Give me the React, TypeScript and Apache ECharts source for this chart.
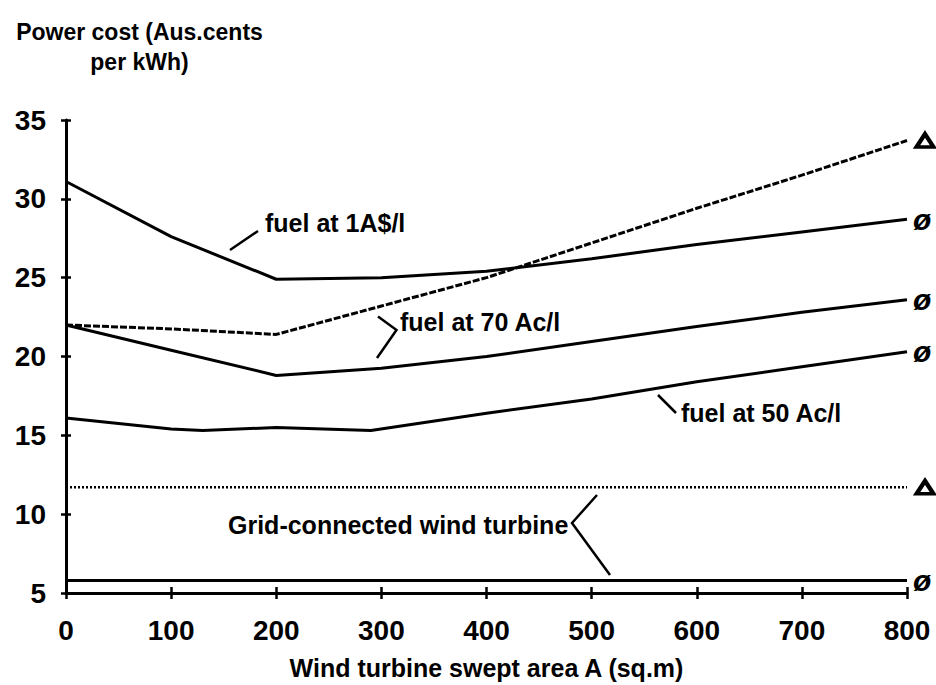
import React, { useEffect, useRef } from "react";
import * as echarts from "echarts";

// swept area (sq.m) and power cost (Aus. cents per kWh)
const fuel100X = [0, 100, 200, 300, 400, 500, 600, 700, 800];
const fuel100Y = [31.1, 27.6, 24.9, 25.0, 25.4, 26.2, 27.1, 27.9, 28.7];
const dashedX = [0, 100, 200, 300, 400, 500, 600, 700, 800];
const dashedY = [22.0, 21.75, 21.4, 23.2, 25.0, 27.2, 29.4, 31.5, 33.7];
const fuel70X = [0, 100, 200, 300, 400, 500, 600, 700, 800];
const fuel70Y = [22.0, 20.4, 18.8, 19.25, 20.0, 20.95, 21.9, 22.8, 23.6];
const fuel50X = [0, 100, 130, 200, 290, 400, 500, 600, 700, 800];
const fuel50Y = [16.1, 15.4, 15.3, 15.5, 15.3, 16.4, 17.3, 18.4, 19.35, 20.3];
const gridDottedX = [0, 800];
const gridDottedY = [11.7, 11.7];
const gridSolidX = [0, 800];
const gridSolidY = [5.8, 5.8];

const xTicks = [0, 100, 200, 300, 400, 500, 600, 700, 800];
const yTicks = [5, 10, 15, 20, 25, 30, 35];

const FONT = "'Liberation Sans', Arial, sans-serif";

const pairs = (xs: number[], ys: number[]) => xs.map((x, i) => [x, ys[i]]);

export default function App() {
  const ref = useRef<HTMLDivElement>(null);
  useEffect(() => {
    if (!ref.current) return;
    const chart = echarts.init(ref.current, undefined, { renderer: "svg" });
    const lineBase = (name: string, data: number[][], dash: any, width: number, mark: string | null) => ({
      name,
      type: "line",
      data,
      xAxisIndex: 0,
      yAxisIndex: 0,
      symbol: "none",
      clip: false,
      lineStyle: { color: "#000", width, type: dash },
      endLabel: mark
        ? {
            show: true,
            formatter: mark,
            distance: 6,
            color: "#000",
            fontSize: 30,
            fontWeight: "bold",
            fontStyle: "italic",
            fontFamily: FONT,
          }
        : { show: false },
      z: 3,
    });
    const last = (xs: number[], ys: number[]) => [xs[xs.length - 1], ys[ys.length - 1]];
    const commonX = {
      type: "value",
      min: xTicks[0],
      max: xTicks[xTicks.length - 1],
      interval: 100,
      splitLine: { show: false },
    };
    const commonY = {
      type: "value",
      min: yTicks[0],
      max: yTicks[yTicks.length - 1],
      interval: 5,
      splitLine: { show: false },
    };
    chart.setOption({
      animation: false,
      backgroundColor: "#fff",
      grid: { left: 66, right: 29, top: 120, bottom: 92, containLabel: false },
      xAxis: [
        {
          ...commonX,
          position: "bottom",
          axisLine: { lineStyle: { color: "#000", width: 3 } },
          axisTick: { show: true, inside: false, length: 6, lineStyle: { color: "#000", width: 2.5 } },
          axisLabel: { color: "#000", fontSize: 28, fontWeight: "bold", fontFamily: FONT, margin: 23 },
          name: "Wind turbine swept area A (sq.m)",
          nameLocation: "middle",
          nameGap: 62,
          nameTextStyle: { color: "#000", fontSize: 25, fontWeight: "bold", fontFamily: FONT },
        },
        {
          ...commonX,
          position: "bottom",
          axisLine: { show: false },
          axisTick: { show: true, inside: true, length: 6, lineStyle: { color: "#000", width: 2.5 } },
          axisLabel: { show: false },
        },
      ],
      yAxis: [
        {
          ...commonY,
          position: "left",
          axisLine: { show: true, lineStyle: { color: "#000", width: 3 } },
          axisTick: { show: true, inside: false, length: 5, lineStyle: { color: "#000", width: 2.5 } },
          axisLabel: { color: "#000", fontSize: 28, fontWeight: "bold", fontFamily: FONT, margin: 20 },
        },
        {
          ...commonY,
          position: "left",
          axisLine: { show: false },
          axisTick: { show: true, inside: true, length: 5, lineStyle: { color: "#000", width: 2.5 } },
          axisLabel: { show: false },
        },
      ],
      series: [
        lineBase("fuel at 1A$/l", pairs(fuel100X, fuel100Y), "solid", 3, "ø"),
        lineBase("dashed", pairs(dashedX, dashedY), [7, 2], 3, null),
        lineBase("fuel at 70 Ac/l", pairs(fuel70X, fuel70Y), "solid", 3, "ø"),
        lineBase("fuel at 50 Ac/l", pairs(fuel50X, fuel50Y), "solid", 3, "ø"),
        lineBase("Grid-connected wind turbine (dotted)", pairs(gridDottedX, gridDottedY), [2, 2], 2.5, null),
        lineBase("Grid-connected wind turbine", pairs(gridSolidX, gridSolidY), "solid", 3, "ø"),
        {
          name: "triangles",
          type: "scatter",
          xAxisIndex: 0,
          yAxisIndex: 0,
          clip: false,
          data: [last(dashedX, dashedY), last(gridDottedX, gridDottedY)],
          symbol: "triangle",
          symbolSize: [17, 13],
          symbolOffset: [18, 0],
          itemStyle: { color: "#fff", borderColor: "#000", borderWidth: 4, opacity: 1 },
          z: 4,
        },
      ],
      graphic: [
        {
          type: "text",
          x: 139.5,
          y: 47,
          style: {
            text: "Power cost (Aus.cents\nper kWh)",
            fill: "#000",
            font: `bold 23px ${FONT}`,
            textAlign: "center",
            textVerticalAlign: "middle",
            lineHeight: 30,
          },
        },
        {
          type: "text",
          x: 265,
          y: 223,
          style: { text: "fuel at 1A$/l", fill: "#000", font: `bold 25px ${FONT}`, textVerticalAlign: "middle" },
        },
        { type: "line", shape: { x1: 230, y1: 250, x2: 258, y2: 231 }, style: { stroke: "#000", lineWidth: 2.5 } },
        {
          type: "text",
          x: 400,
          y: 322,
          style: { text: "fuel at 70 Ac/l", fill: "#000", font: `bold 25px ${FONT}`, textVerticalAlign: "middle" },
        },
        {
          type: "polyline",
          shape: { points: [[378, 316.5], [396.5, 330], [377, 358]] },
          style: { stroke: "#000", lineWidth: 2.5, fill: "none" },
        },
        {
          type: "text",
          x: 681,
          y: 413,
          style: { text: "fuel at 50 Ac/l", fill: "#000", font: `bold 25px ${FONT}`, textVerticalAlign: "middle" },
        },
        { type: "line", shape: { x1: 658, y1: 395, x2: 676, y2: 413 }, style: { stroke: "#000", lineWidth: 2.5 } },
        {
          type: "text",
          x: 228,
          y: 525,
          style: {
            text: "Grid-connected wind turbine",
            fill: "#000",
            font: `bold 25px ${FONT}`,
            textVerticalAlign: "middle",
          },
        },
        {
          type: "polyline",
          shape: { points: [[597, 495], [572, 523], [610, 575]] },
          style: { stroke: "#000", lineWidth: 2.5, fill: "none" },
        },
      ],
    });
    return () => chart.dispose();
  }, []);
  return (
    <div
      ref={ref}
      style={{ position: "absolute", left: 0, top: 0, width: 936, height: 685, background: "#fff" }}
    />
  );
}
